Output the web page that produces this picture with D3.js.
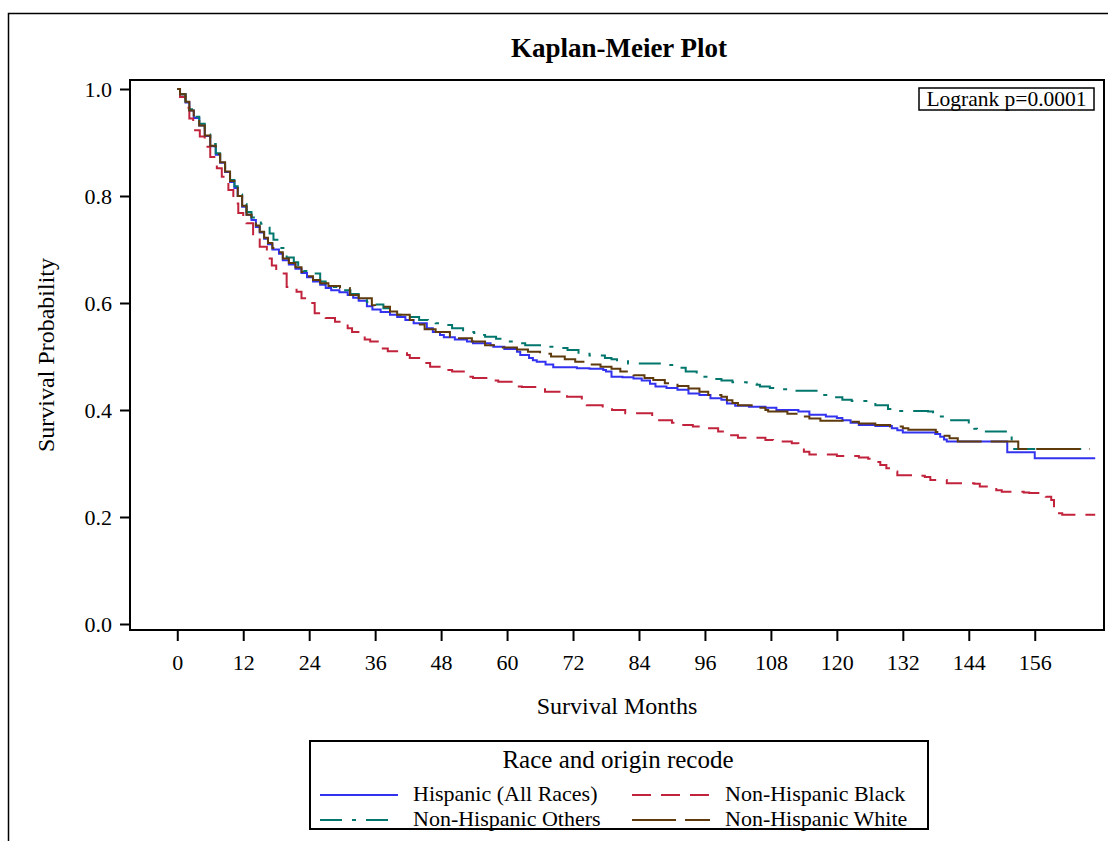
<!DOCTYPE html>
<html>
<head>
<meta charset="utf-8">
<script src="https://cdn.jsdelivr.net/npm/d3@7/dist/d3.min.js"></script>
<style>
html,body{margin:0;padding:0;background:#fff;}
svg{display:block;font-family:"Liberation Serif","Times New Roman",serif;}
</style>
</head>
<body>
<svg id="chart" width="1108" height="841"></svg>
<script>
// ---------- data ----------
const titleText = "Kaplan-Meier Plot";
const xLabel = "Survival Months";
const yLabel = "Survival Probability";
const legendTitle = "Race and origin recode";
const statText = "Logrank p=0.0001";
const xTicks = [0,12,24,36,48,60,72,84,96,108,120,132,144,156];
const yTicks = [0.0,0.2,0.4,0.6,0.8,1.0];
const seriesNames = ["Hispanic (All Races)","Non-Hispanic Black","Non-Hispanic Others","Non-Hispanic White"];

// [month, survival]
const hispanic = [[0,1.0],[0.5,.99],[1.5,.975],[2.2,.96],[3,.946],[4,.932],[5,.912],[6,.893],[7,.877],[7.8,.862],[8.7,.845],[9.6,.826],[10.4,.815],[11,.80],[11.8,.78],[12.6,.765],[13.5,.755],[14.3,.742],[15,.732],[15.8,.72],[16.5,.71],[17.3,.70],[18.5,.692],[19.2,.68],[20.3,.672],[21.5,.664],[22.6,.656],[23.6,.648],[24.7,.64],[26,.634],[27,.628],[28,.624],[29.5,.62],[31,.615],[32,.61],[33,.604],[34.5,.594],[35.5,.588],[37,.583],[38.7,.578],[40,.574],[41.5,.568],[43,.562],[45.4,.553],[46.5,.546],[47.8,.54],[48.5,.536],[50.5,.532],[52.7,.528],[53.8,.525],[57,.521],[57.5,.518],[59.5,.514],[61.8,.509],[62.4,.503],[64,.497],[64.7,.493],[65.4,.490],[67,.485],[68.4,.480],[72.7,.478],[75,.477],[77.5,.475],[78,.472],[79,.462],[81,.461],[83,.459],[84.5,.455],[86,.449],[87,.444],[89,.441],[91,.438],[93,.431],[95,.428],[97,.422],[99,.419],[100,.412],[101.5,.408],[104,.406],[107,.404],[109,.400],[113,.397],[115,.391],[118,.388],[120,.385],[121,.381],[122.5,.376],[124,.372],[127,.370],[130,.366],[131,.362],[132,.358],[137.9,.355],[138.8,.350],[139.5,.345],[140,.341],[151,.321],[156,.310],[167,.310]];

const black = [[0,1.0],[0.5,.985],[1.5,.965],[2.2,.945],[2.9,.923],[4.1,.911],[5,.892],[6,.873],[7.2,.852],[8.1,.836],[9.3,.811],[10.2,.786],[11.1,.768],[12,.755],[12.6,.749],[13.8,.724],[15,.705],[16.3,.683],[17.2,.67],[18,.655],[19.9,.63],[21.7,.621],[22.6,.609],[24,.60],[25,.581],[27,.572],[28.7,.565],[31,.553],[31.8,.546],[34.1,.532],[35.1,.528],[37.2,.515],[38.3,.510],[41.8,.503],[42.3,.497],[45.1,.488],[46,.481],[49,.475],[50,.472],[52.9,.462],[53.8,.460],[57.2,.455],[58.4,.453],[61.1,.444],[62.7,.443],[66,.441],[66.9,.434],[70,.428],[70.9,.425],[73.6,.415],[74.5,.409],[77.4,.404],[79.1,.400],[81.5,.394],[86.4,.388],[87.3,.381],[90,.376],[91.5,.372],[93.8,.369],[96,.366],[98.4,.360],[100,.353],[102,.348],[107,.344],[108.4,.341],[111.8,.338],[113,.329],[114,.322],[115,.317],[120,.314],[124,.311],[125.7,.309],[127,.303],[127.9,.297],[129,.291],[130,.285],[131,.278],[134,.277],[136,.275],[137,.269],[140,.263],[145,.262],[146,.257],[149,.250],[150,.247],[154,.246],[155,.245],[158,.238],[159,.232],[159.5,.22],[160,.207],[161,.204],[167,.204]];

const others = [[0,1.0],[0.5,.99],[1.5,.977],[2.2,.962],[3,.948],[4,.935],[5,.915],[6,.897],[7,.88],[7.8,.866],[8.7,.85],[9.6,.83],[10.4,.818],[11,.803],[11.8,.785],[12.6,.77],[13.5,.76],[14.3,.755],[15.2,.748],[16,.743],[16.8,.73],[17.5,.718],[18.5,.703],[19.9,.685],[21.2,.676],[22,.668],[23,.66],[24.7,.655],[26,.64],[27,.634],[28.5,.63],[30,.624],[31.5,.617],[33,.61],[34.5,.602],[36,.597],[37.5,.59],[38.7,.584],[40,.578],[42,.574],[44,.568],[45.6,.565],[47,.562],[48,.559],[50,.553],[52,.546],[54,.544],[55,.540],[56,.537],[58,.533],[60.5,.528],[62,.525],[63.3,.521],[67,.518],[69,.516],[71,.512],[73,.505],[75,.502],[77.8,.497],[79,.495],[80,.493],[82,.487],[89.7,.484],[91,.479],[92.5,.472],[94.5,.462],[96.6,.458],[99,.455],[101,.452],[103.6,.449],[105.4,.447],[106,.444],[107.8,.441],[110,.439],[112.4,.436],[117,.428],[119,.424],[121,.419],[122.7,.417],[125.7,.414],[127,.409],[129.3,.402],[131,.398],[136.6,.397],[137.5,.392],[138.4,.388],[140,.383],[140.6,.381],[144,.372],[145,.365],[145.5,.360],[151.8,.327],[166,.327]];

const white = [[0,1.0],[0.5,.99],[1.5,.976],[2.2,.96],[3,.947],[4,.932],[5,.913],[6,.894],[7,.878],[7.8,.863],[8.7,.846],[9.6,.828],[10.4,.815],[11,.80],[11.8,.782],[12.6,.765],[13.5,.755],[14.3,.745],[15,.733],[15.8,.722],[16.5,.712],[17.3,.703],[18.5,.695],[19.2,.683],[20.3,.675],[21.5,.667],[22.6,.658],[23.6,.65],[24.7,.643],[26,.637],[27.5,.632],[29.6,.628],[31.4,.615],[33,.609],[35.4,.596],[36,.593],[38.7,.584],[40,.578],[42.3,.568],[43.5,.560],[45,.551],[47,.546],[49.6,.537],[50,.534],[53.6,.528],[56,.521],[59,.517],[61.8,.513],[63.8,.509],[66,.505],[68,.500],[70.5,.495],[72.4,.490],[75,.485],[77,.481],[79,.477],[80.6,.472],[83,.465],[85,.460],[86.6,.456],[88.7,.450],[91,.445],[93,.440],[95,.434],[96.6,.428],[99,.425],[100,.418],[101,.413],[102,.409],[104.5,.404],[107,.400],[107.5,.397],[111,.393],[113,.388],[115,.384],[117,.380],[121.8,.378],[124,.375],[127,.372],[129.7,.369],[132,.366],[133,.363],[138,.359],[139,.352],[140.5,.347],[142,.341],[153,.327],[166,.327]];

const seriesData = [hispanic, black, others, white];
const seriesColors = ["#3232f0","#c0233b","#00766c","#5e3a0c"];
const seriesDash = [null,"19,10","22,10,4,10","44,9"];

// ---------- drawing ----------
const svg = d3.select("#chart");
const font = '"Liberation Serif","Times New Roman",serif';
const L = 130, R = 1104, T = 80, B = 630;

// outer frame
svg.append("rect").attr("x",8.5).attr("y",13.5).attr("width",1200).attr("height",900)
  .attr("fill","none").attr("stroke","#000").attr("stroke-width",1.5);

const x = d3.scaleLinear().domain([-8.6,168.6]).range([L,R]);
const y = d3.scaleLinear().domain([0,1]).range([624,89]);

svg.append("text").attr("x",619).attr("y",57).attr("text-anchor","middle")
  .attr("font-size",27).attr("font-weight","bold").attr("font-family",font).text(titleText);

// clip
svg.append("clipPath").attr("id","clip").append("rect").attr("x",L).attr("y",T).attr("width",R-L).attr("height",B-T);

const line = d3.line().x(d=>x(d[0])).y(d=>y(d[1])).curve(d3.curveStepAfter);
const g = svg.append("g").attr("clip-path","url(#clip)");
seriesData.forEach((s,i)=>{
  g.append("path").datum(s).attr("d",line).attr("fill","none")
    .attr("stroke",seriesColors[i]).attr("stroke-width",2)
    .attr("stroke-dasharray",seriesDash[i]);
});

// plot frame
svg.append("rect").attr("x",L).attr("y",T).attr("width",R-L).attr("height",B-T)
  .attr("fill","none").attr("stroke","#000").attr("stroke-width",2);

// y axis
const yAxis = d3.axisLeft(y).tickValues(yTicks).tickFormat(d3.format(".1f")).tickSize(10).tickPadding(8);
const ya = svg.append("g").attr("transform",`translate(${L},0)`).call(yAxis);
ya.select(".domain").remove();
ya.selectAll(".tick line").attr("stroke","#000").attr("stroke-width",2);
ya.selectAll(".tick text").attr("font-size",22).attr("font-family",font).attr("fill","#000");

// x axis (ticks detached below frame)
const xAxis = d3.axisBottom(x).tickValues(xTicks).tickSize(10).tickPadding(13);
const xa = svg.append("g").attr("transform",`translate(0,${B+1})`).call(xAxis);
xa.select(".domain").remove();
xa.selectAll(".tick line").attr("stroke","#000").attr("stroke-width",2);
xa.selectAll(".tick text").attr("font-size",22).attr("font-family",font).attr("fill","#000");

// axis labels
svg.append("text").attr("x",617).attr("y",714).attr("text-anchor","middle")
  .attr("font-size",24).attr("font-family",font).text(xLabel);
svg.append("text").attr("transform",`translate(54,355) rotate(-90)`).attr("text-anchor","middle")
  .attr("font-size",24).attr("font-family",font).text(yLabel);

// logrank box
svg.append("rect").attr("x",919).attr("y",88).attr("width",175).attr("height",22)
  .attr("fill","#fff").attr("stroke","#000").attr("stroke-width",1.5);
svg.append("text").attr("x",1006.5).attr("y",106).attr("text-anchor","middle")
  .attr("font-size",21.5).attr("font-family",font).text(statText);

// legend
svg.append("rect").attr("x",310).attr("y",741).attr("width",618).attr("height",88)
  .attr("fill","none").attr("stroke","#000").attr("stroke-width",2);
svg.append("text").attr("x",618).attr("y",768).attr("text-anchor","middle")
  .attr("font-size",25).attr("font-family",font).text(legendTitle);
const legPos = [[320,795],[632,795],[320,820],[632,820]];
seriesNames.forEach((n,i)=>{
  const [lx,ly] = legPos[i];
  svg.append("line").attr("x1",lx).attr("x2",lx+78).attr("y1",ly).attr("y2",ly)
    .attr("stroke",seriesColors[i]).attr("stroke-width",2).attr("stroke-dasharray",seriesDash[i]);
  svg.append("text").attr("x",lx+93).attr("y",ly+6).attr("font-size",22).attr("font-family",font).text(n);
});
</script>
</body>
</html>
